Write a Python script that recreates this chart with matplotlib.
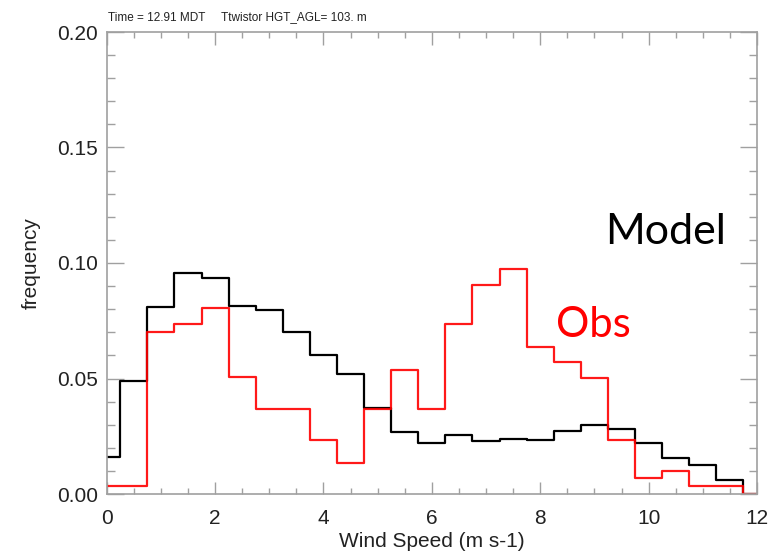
import numpy as np
import matplotlib
matplotlib.use("Agg")
import matplotlib.pyplot as plt
from matplotlib.ticker import MultipleLocator, FormatStrFormatter

# Wind speed bin centres (m s-1) and frequencies
speed_bins = np.arange(0, 12.01, 0.5)
model_freq = [0.0159, 0.0491, 0.0810, 0.0956, 0.0934, 0.0812, 0.0797, 0.0703,
              0.0601, 0.0519, 0.0374, 0.0268, 0.0220, 0.0254, 0.0231, 0.0238,
              0.0233, 0.0273, 0.0298, 0.0280, 0.0220, 0.0155, 0.0126, 0.0061,
              0.0000]
obs_freq = [0.0035, 0.0035, 0.0702, 0.0738, 0.0807, 0.0506, 0.0370, 0.0370,
            0.0234, 0.0133, 0.0370, 0.0537, 0.0370, 0.0738, 0.0906, 0.0973,
            0.0637, 0.0570, 0.0504, 0.0234, 0.0071, 0.0101, 0.0035, 0.0035,
            0.0000]

title_text = "Time = 12.91 MDT     Ttwistor HGT_AGL= 103. m"

W, H = 770, 556
fig = plt.figure(figsize=(W / 100, H / 100), dpi=100)
ax = fig.add_axes([106.7 / W, 1 - 494 / H, (757 - 106.7) / W, (494 - 32) / H])

ax.step(speed_bins, model_freq, where="mid", color="black", lw=1.6)
ax.step(speed_bins, obs_freq, where="mid", color="#ff0000", lw=1.6, alpha=0.9)

ax.set_xlim(0, 12)
ax.set_ylim(0, 0.2)

axis_gray = "#a0a0a0"
for s in ax.spines.values():
    s.set_color(axis_gray)
    s.set_linewidth(1.2)

ax.xaxis.set_major_locator(MultipleLocator(2))
ax.xaxis.set_minor_locator(MultipleLocator(0.5))
ax.yaxis.set_major_locator(MultipleLocator(0.05))
ax.yaxis.set_minor_locator(MultipleLocator(0.01))
ax.yaxis.set_major_formatter(FormatStrFormatter("%.2f"))

tick_font = "Liberation Sans"
ax.tick_params(which="both", direction="in", top=True, right=True,
               color=axis_gray, width=1.0)
ax.tick_params(axis="x", which="major", length=9, pad=11, labelsize=15)
ax.tick_params(axis="x", which="minor", length=4.5)
ax.tick_params(axis="y", which="major", length=12, pad=6, labelsize=15)
ax.tick_params(axis="y", which="minor", length=6)
for lab in ax.get_xticklabels() + ax.get_yticklabels():
    lab.set_fontfamily(tick_font)
    lab.set_color("#222222")

ax.set_xlabel("Wind Speed (m s-1)", fontsize=15, family=tick_font,
              color="#222222", labelpad=3)
ax.set_ylabel("frequency", fontsize=15, family=tick_font,
              color="#222222", labelpad=12)

fig.text(108 / W, 1 - 17 / H, title_text, fontsize=8.5, family=tick_font,
         ha="left", va="center", color="#222222")

# Series labels placed in figure-fraction coordinates
fig.text(666 / W, 1 - 232 / H, "Model", fontsize=31, family="Lato",
         ha="center", va="center", color="black")
fig.text(593 / W, 1 - 325 / H, "Obs", fontsize=30, family="Lato",
         ha="center", va="center", color="#ff0000")

fig.savefig("out.png", dpi=100)
